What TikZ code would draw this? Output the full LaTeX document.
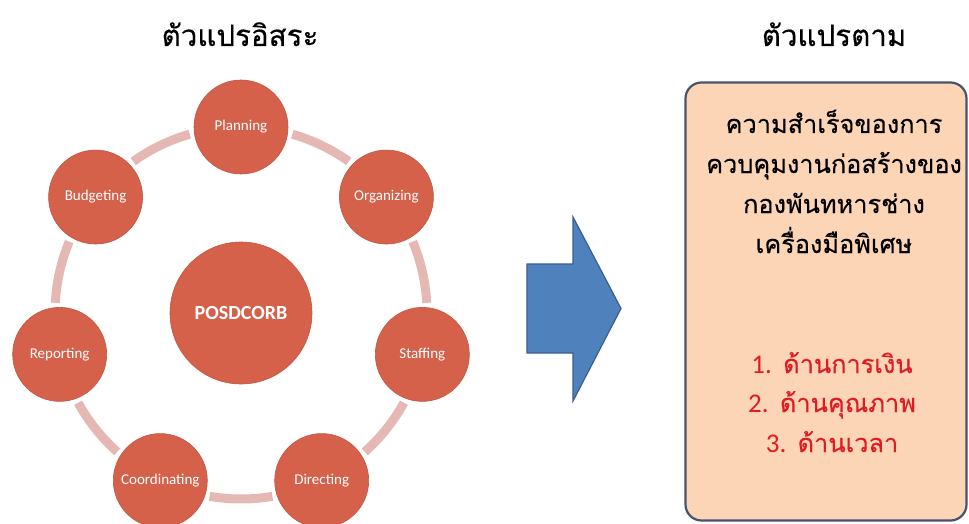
\documentclass[tikz,border=0pt]{standalone}
\usepackage{fontspec}
\setmainfont{Carlito}
\newfontfamily\thai[Script=Thai,FakeBold=0.3]{Loma}
\newfontfamily\digits{Carlito}
\definecolor{circfill}{RGB}{214,97,75}
\definecolor{ringcol}{RGB}{229,184,180}
\definecolor{boxfill}{RGB}{251,213,181}
\definecolor{boxline}{RGB}{70,84,110}
\definecolor{arrfill}{RGB}{79,129,189}
\definecolor{arrline}{RGB}{58,95,140}
\definecolor{redtxt}{RGB}{222,28,36}
\tikzset{
  bubble/.style={circle, fill=circfill, draw=circfill!90!black, line width=0.6pt, minimum size=94pt, inner sep=0pt, text=white, font=\fontsize{15}{17}\selectfont},
  hub/.style={circle, fill=circfill, draw=circfill!90!black, line width=0.6pt, minimum size=142pt, inner sep=0pt, text=white, font=\fontsize{20}{24}\selectfont\bfseries},
  ringarc/.style={draw=ringcol, line width=9pt, line cap=butt},
  title/.style={font=\thai\fontsize{29.5}{34}\selectfont, text=black, anchor=base},
  boxline/.style={font=\thai\fontsize{25.3}{30}\selectfont, text=black, anchor=base},
  redline/.style={font=\thai\fontsize{25.3}{30}\selectfont, text=redtxt, anchor=base}
}
\newcommand{\num}[1]{{\digits\fontsize{27}{30}\selectfont #1}}
\begin{document}
\begin{tikzpicture}[x=1pt,y=1pt]
\clip (0,0) rectangle (969,-524);
\fill[white] (0,0) rectangle (969,-524);
% titles
\node[title] (t1) at (240,-46) {ตัวแปรอิสระ};
\node[title] (t2) at (834,-46) {ตัวแปรตาม};
% hub
\node[hub] (hub) at (241,-313) {POSDCORB};
% ring arcs
\foreach \a in {90,38.571,-12.857,-64.286,-115.714,-167.143,-218.571}{
  \draw[ringarc] ([shift={(\a-16:186)}]hub.center) arc[start angle=\a-16, end angle=\a-35.43, radius=186];
}
% outer bubbles
\node[bubble] (pl) at ([shift={(90:186)}]hub.center) {Planning};
\node[bubble] (or) at ([shift={(38.571:186)}]hub.center) {Organizing};
\node[bubble] (st) at ([shift={(-12.857:186)}]hub.center) {Staffing};
\node[bubble] (di) at ([shift={(-64.286:186)}]hub.center) {Directing};
\node[bubble] (co) at ([shift={(-115.714:186)}]hub.center) {Coordinating};
\node[bubble] (re) at ([shift={(-167.143:186)}]hub.center) {Reporting};
\node[bubble] (bu) at ([shift={(141.429:186)}]hub.center) {Budgeting};
% arrow
\draw[fill=arrfill, draw=arrline, line width=1.2pt, line join=miter]
  (527,-264) -- (573,-264) -- (573,-217) -- (621,-308.5) -- (573,-401) -- (573,-353) -- (527,-353) -- cycle;
% result box
\node[draw=boxline, line width=2.2pt, fill=boxfill, rounded corners=16pt, minimum width=281pt, minimum height=438pt, inner sep=0pt] (box) at (826,-301.5) {};
\node[boxline] (l1) at (834,-133) {ความสำเร็จของการ};
\node[boxline] (l2) at (834,-173) {ควบคุมงานก่อสร้างของ};
\node[boxline] (l3) at (834,-213) {กองพันทหารช่าง};
\node[boxline] (l4) at (834,-253) {เครื่องมือพิเศษ};
\node[redline] (r1) at (832,-373) {\num{1.} ด้านการเงิน};
\node[redline] (r2) at (832,-412) {\num{2.} ด้านคุณภาพ};
\node[redline] (r3) at (832,-452) {\num{3.} ด้านเวลา};
\end{tikzpicture}
\end{document}
